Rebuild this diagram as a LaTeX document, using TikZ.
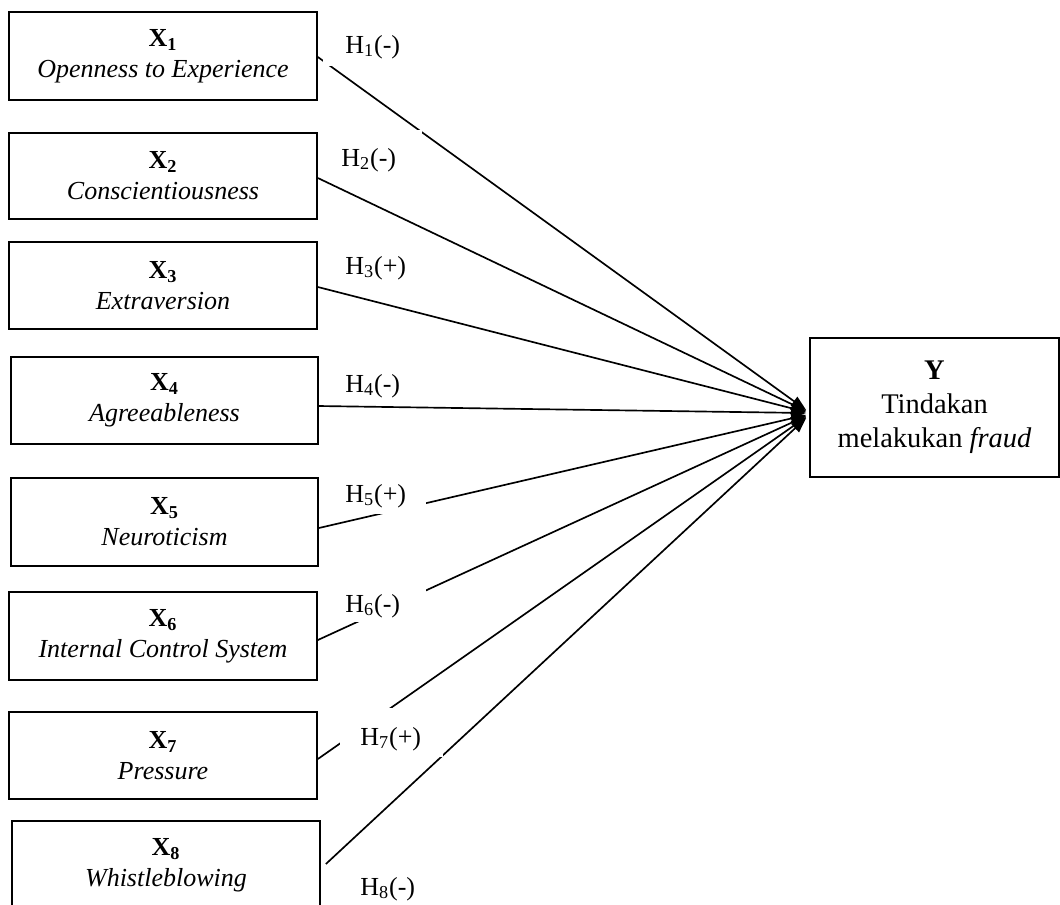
\documentclass[tikz,border=0pt]{standalone}
\usepackage{fontspec}
\setmainfont{Liberation Serif}
\usetikzlibrary{arrows.meta,calc,fit}
\begin{document}
\begin{tikzpicture}[x=0.02cm,y=-0.02cm,
  box/.style={draw, line width=1pt, align=center, inner sep=0pt, font=\fontsize{14.8}{17.6}\selectfont},
  ybox/.style={draw, line width=1pt, align=center, inner sep=0pt, font=\fontsize{16.2}{19.4}\selectfont},
  link/.style={line width=0.95pt, -{Triangle[length=0.3cm,width=0.22cm]}},
  mask/.style={fill=white, inner sep=0pt},
  hlab/.style={anchor=base west, inner sep=0pt, font=\fontsize{14.8}{17}\selectfont}]
\useasboundingbox (0,0) rectangle (1060,904);
\clip (0,0) rectangle (1060,904);

\node[box, minimum width=6.16cm, minimum height=1.76cm] (x1) at (163,56) {\textbf{X\textsubscript{1}}\\\textit{Openness to Experience}};
\node[box, minimum width=6.16cm, minimum height=1.72cm] (x2) at (163,176) {\textbf{X\textsubscript{2}}\\\textit{Conscientiousness}};
\node[box, minimum width=6.16cm, minimum height=1.74cm] (x3) at (163,285.5) {\textbf{X\textsubscript{3}}\\\textit{Extraversion}};
\node[box, minimum width=6.14cm, minimum height=1.74cm] (x4) at (164.5,400.5) {\textbf{X\textsubscript{4}}\\\textit{Agreeableness}};
\node[box, minimum width=6.14cm, minimum height=1.76cm] (x5) at (164.5,522) {\textbf{X\textsubscript{5}}\\\textit{Neuroticism}};
\node[box, minimum width=6.16cm, minimum height=1.76cm] (x6) at (163,636) {\textbf{X\textsubscript{6}}\\\textit{Internal Control System}};
\node[box, minimum width=6.16cm, minimum height=1.74cm] (x7) at (163,755.5) {\textbf{X\textsubscript{7}}\\\textit{Pressure}};
\node[box, minimum width=6.16cm, minimum height=1.76cm] (x8) at (166,865) {\textbf{X\textsubscript{8}}\\\textit{Whistleblowing}};

\node[ybox, minimum width=4.98cm, minimum height=2.78cm] (fraud) at (934.5,407.5) {\textbf{Y}\\Tindakan\\melakukan \textit{fraud}};

\draw[link] ($(x1.east)+(0,1)$) -- ($(fraud.west)+(-3,2.5)$);
\draw[link] ($(x2.east)+(0,2)$) -- ($(fraud.west)+(-3,3.5)$);
\draw[link] ($(x3.east)+(0,1.5)$) -- ($(fraud.west)+(-3,4.5)$);
\draw[link] ($(x4.east)+(0,5.5)$) -- ($(fraud.west)+(-3,5.5)$);
\draw[link] ($(x5.east)+(0,6)$) -- ($(fraud.west)+(-3,7.5)$);
\draw[link] ($(x6.east)+(0,4)$) -- ($(fraud.west)+(-3,8.5)$);
\draw[link] ($(x7.east)+(0,3.5)$) -- ($(fraud.west)+(-3,9.5)$);
\draw[link] ($(x8.east)+(5,-1)$) -- ($(fraud.west)+(-3,10.5)$);

\node[mask, fit={(323,27) (420,66)}] (m1) {};
\node[mask, fit={(330,130) (422,176)}] (m2) {};
\node[mask, fit={(335,470) (426,514)}] (m5) {};
\node[mask, fit={(335,575) (426,622)}] (m6) {};
\node[mask, fit={(340,708) (443,757)}] (m7) {};

\node[hlab] (h1) at (345,53) {H\textsubscript{1}(-)};
\node[hlab] (h2) at (341,166) {H\textsubscript{2}(-)};
\node[hlab] (h3) at (345,274) {H\textsubscript{3}(+)};
\node[hlab] (h4) at (345,392) {H\textsubscript{4}(-)};
\node[hlab] (h5) at (345,502) {H\textsubscript{5}(+)};
\node[hlab] (h6) at (345,612) {H\textsubscript{6}(-)};
\node[hlab] (h7) at (360,745) {H\textsubscript{7}(+)};
\node[hlab] (h8) at (360,895) {H\textsubscript{8}(-)};
\end{tikzpicture}
\end{document}
